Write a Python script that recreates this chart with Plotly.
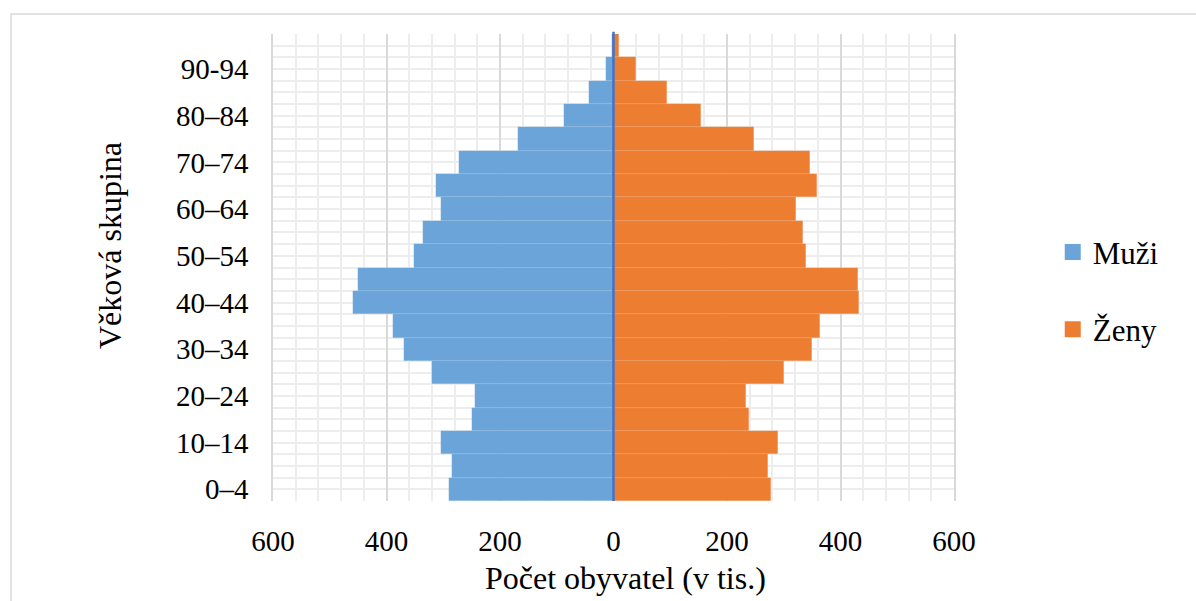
import plotly.graph_objects as go

# Age groups (5-year bands), bottom to top
age_groups = ["0–4", "5–9", "10–14", "15–19", "20–24", "25–29", "30–34", "35–39",
              "40–44", "45–49", "50–54", "55–59", "60–64", "65–69", "70–74",
              "75–79", "80–84", "85–89", "90-94", "95+"]

# Population in thousands
men = [290, 285, 304, 250, 244, 319, 369, 388, 459, 451, 351, 335, 304, 312,
       273, 169, 88, 43, 13, 2]
women = [277, 273, 290, 239, 233, 300, 349, 364, 433, 430, 339, 334, 322, 359,
         347, 248, 154, 94, 39, 9]

# Every second age group carries a label on the axis
label_every = 2

x_ticks = [-600, -400, -200, 0, 200, 400, 600]
x_tick_text = [str(abs(v)) for v in x_ticks]

BLUE = "#6AA4D9"
ORANGE = "#ED7D31"
AXIS_BLUE = "#4472C4"
FONT = "Liberation Serif"

positions = list(range(len(age_groups)))

fig = go.Figure()

fig.add_trace(go.Bar(
    y=positions, x=[-v for v in men], orientation="h",
    marker=dict(color=BLUE, line=dict(color="rgba(255,255,255,0.15)", width=0.5)),
    name="Muži", showlegend=False,
))
fig.add_trace(go.Bar(
    y=positions, x=women, orientation="h",
    marker=dict(color=ORANGE, line=dict(color="rgba(255,255,255,0.15)", width=0.5)),
    name="Ženy", showlegend=False,
))

# Legend entries with larger square swatches
for name, color, grp in [("Muži", BLUE, "m"), ("Ženy", ORANGE, "z")]:
    fig.add_trace(go.Scatter(
        x=[None], y=[None], mode="markers", name=name, legendgroup=grp,
        marker=dict(symbol="square", size=16, color=color),
    ))

half_steps = [i * 0.5 - 0.5 for i in range(2 * len(age_groups) + 1)]

fig.update_layout(
    width=1196, height=601,
    margin=dict(l=273, r=242, t=34, b=100),
    paper_bgcolor="white", plot_bgcolor="white",
    barmode="overlay", bargap=0,
    font=dict(family=FONT, size=29, color="#000000"),
    xaxis=dict(
        range=[-600, 600], tickmode="array", tickvals=x_ticks, ticktext=x_tick_text,
        showgrid=True, gridcolor="#D9D9D9", gridwidth=1.5,
        minor=dict(dtick=40, tick0=0, showgrid=True, gridcolor="#EDEDED", gridwidth=1.5),
        zeroline=False, showline=False, ticks="", ticklabelstandoff=20,
        tickfont=dict(family=FONT, size=29),
    ),
    yaxis=dict(
        range=[-0.5, len(age_groups) - 0.5],
        tickmode="array",
        tickvals=positions[::label_every],
        ticktext=age_groups[::label_every],
        showgrid=False, zeroline=False,
        showline=True, mirror=True, linecolor="#D9D9D9", linewidth=1.5,
        ticks="",
        minor=dict(tickmode="array", tickvals=half_steps, showgrid=True,
                   gridcolor="#EDEDED", gridwidth=1.5),
        ticklabelstandoff=17,
        tickfont=dict(family=FONT, size=29),
    ),
    legend=dict(
        x=1.145, xanchor="left", y=0.45, yanchor="middle",
        font=dict(family=FONT, size=31), traceorder="grouped",
        tracegroupgap=34, itemwidth=30, bgcolor="rgba(0,0,0,0)",
    ),
    shapes=[
        # outer chart border
        dict(type="rect", xref="paper", yref="paper",
             x0=(11 - 273) / 681, x1=1.5, y0=-1, y1=(601 - 100 - 14) / 467,
             line=dict(color="#D9D9D9", width=1.5), layer="below"),
        # vertical axis line at zero, drawn over the bars
        dict(type="line", xref="x", yref="paper", x0=0, x1=0, y0=0, y1=1.005,
             line=dict(color=AXIS_BLUE, width=2.5), layer="above"),
    ],
    annotations=[
        dict(text="Věková skupina", xref="paper", yref="paper",
             x=(110 - 273) / 681, y=(501 - 246) / 467, textangle=-90,
             showarrow=False, xanchor="center", yanchor="middle",
             font=dict(family=FONT, size=32)),
        dict(text="Počet obyvatel (v tis.)", xref="paper", yref="paper",
             x=(625 - 273) / 681, y=(501 - 578) / 467,
             showarrow=False, xanchor="center", yanchor="middle",
             font=dict(family=FONT, size=32)),
    ],
)

fig.write_html("out.html")
